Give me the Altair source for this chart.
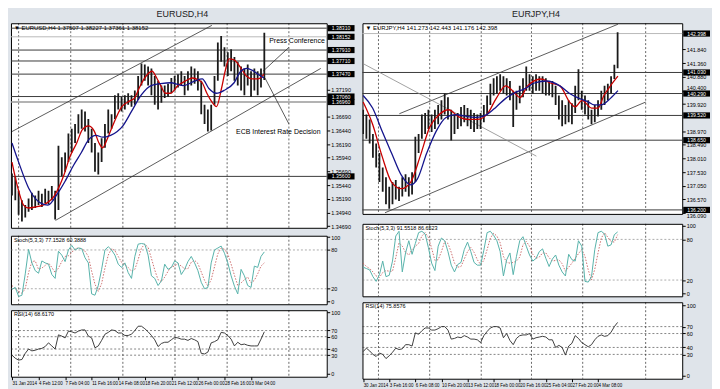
import altair as alt
import pandas as pd

FONT = "Liberation Sans"

# ======================= EURUSD,H4 =======================
usd_dates = ["31 Jan 2014", "4 Feb 12:00", "7 Feb 04:00", "11 Feb 16:00", "14 Feb 08:00",
             "18 Feb 20:00", "21 Feb 12:00", "26 Feb 00:00", "28 Feb 16:00", "3 Mar 04:00"]
usd_high = [1.35651, 1.35599, 1.35337, 1.35162, 1.35075, 1.35197, 1.35302, 1.35249, 1.35337, 1.35284,
            1.35372, 1.35337, 1.35424, 1.35337, 1.36158, 1.35949, 1.36036, 1.36386, 1.36473, 1.36560,
            1.36735, 1.36823, 1.36788, 1.36648, 1.36473, 1.36211, 1.36036, 1.36298, 1.36560, 1.36823,
            1.36735, 1.37085, 1.37120, 1.37050, 1.37085, 1.37120, 1.37085, 1.37172, 1.37434, 1.37662,
            1.37644, 1.37609, 1.37574, 1.37434, 1.37347, 1.37260, 1.37260, 1.37295, 1.37399, 1.37434,
            1.37469, 1.37522, 1.37434, 1.37522, 1.37609, 1.37574, 1.37522, 1.37347, 1.36910, 1.36823,
            1.36910, 1.37434, 1.38046, 1.38169, 1.37959, 1.37871, 1.37924, 1.37784, 1.37697, 1.37609,
            1.37574, 1.37644, 1.37522, 1.37574, 1.37522, 1.37574, 1.38227]
usd_low = [1.35249, 1.35162, 1.34900, 1.34777, 1.34847, 1.34952, 1.34987, 1.35022, 1.35075, 1.35040,
           1.35110, 1.35092, 1.35162, 1.34812, 1.34987, 1.35599, 1.35686, 1.35861, 1.36036, 1.36211,
           1.36386, 1.36473, 1.36420, 1.36211, 1.36036, 1.35686, 1.35634, 1.35861, 1.36123, 1.36386,
           1.36473, 1.36648, 1.36823, 1.36788, 1.36823, 1.36910, 1.36875, 1.36910, 1.36997, 1.37260,
           1.37347, 1.37260, 1.37085, 1.36910, 1.36823, 1.36945, 1.37032, 1.37050, 1.37120, 1.37172,
           1.37225, 1.37260, 1.37085, 1.37172, 1.37260, 1.37295, 1.37172, 1.36735, 1.36560, 1.36420,
           1.36438, 1.36910, 1.37347, 1.37697, 1.37609, 1.37434, 1.37522, 1.37347, 1.37260, 1.37172,
           1.37085, 1.37260, 1.37050, 1.37172, 1.37085, 1.37225, 1.37361]
usd_red_slot = [0, 2, 3.5, 5, 7, 9.3, 12.8, 15.7, 17.4, 19.5, 21.2, 23, 24.7, 26.2, 27.3, 28.8, 30.2,
                33.1, 35.5, 36.9, 38.4, 39.8, 42.2, 43.6, 44.8, 46.2, 47.7, 50, 52.3, 54.4, 56.1, 57.3,
                58.7, 60.2, 61.6, 63.1, 64.2, 65.4, 66.9, 68, 69.2, 70.6, 72.4, 74.1, 75.9]
usd_red = [1.35861, 1.35337, 1.35075, 1.35022, 1.35040, 1.35075, 1.35249, 1.35634, 1.35949, 1.36211,
           1.36455, 1.36525, 1.36438, 1.36211, 1.36123, 1.36298, 1.36508, 1.36875, 1.36980, 1.37032,
           1.37225, 1.37382, 1.37522, 1.37399, 1.37260, 1.37120, 1.37120, 1.37260, 1.37347, 1.37399,
           1.37364, 1.37312, 1.37120, 1.36962, 1.36875, 1.37207, 1.37522, 1.37749, 1.37732, 1.37662,
           1.37557, 1.37434, 1.37382, 1.37382, 1.37469]
usd_blue_slot = [0, 2, 5, 7, 8.7, 10.8, 13.7, 16, 18.6, 20.9, 23, 25.3, 27.3, 29.7, 31.7, 33.4, 36,
                 38.9, 41.9, 44.8, 47.7, 51.5, 55.2, 57.3, 59.3, 61.6, 63.9, 66.9, 68.9, 70.6, 72.4,
                 74.1, 75.9]
usd_blue = [1.36211, 1.35861, 1.35389, 1.35197, 1.35110, 1.35075, 1.35284, 1.35512, 1.35809, 1.36036,
            1.36263, 1.36351, 1.36316, 1.36351, 1.36420, 1.36525, 1.36788, 1.37085, 1.37260, 1.37295,
            1.37312, 1.37260, 1.37347, 1.37382, 1.37207, 1.37120, 1.37172, 1.37312, 1.37522, 1.37574,
            1.37539, 1.37469, 1.37399]
usd_stoch_main = [19, 22, 8, 10, 43, 81, 60, 48, 44, 63,
                  60, 58, 42, 36, 78, 72, 62, 80, 87, 80,
                  83, 82, 68, 60, 12, 10, 25, 50, 80, 85,
                  80, 72, 58, 53, 60, 45, 36, 70, 89, 90,
                  89, 72, 40, 36, 25, 32, 58, 50, 53, 63,
                  60, 42, 50, 62, 70, 60, 48, 30, 20, 22,
                  60, 80, 83, 86, 75, 60, 40, 24, 12, 50,
                  40, 25, 22, 55, 53, 70, 77]
usd_stoch_signal = [25, 20, 16, 13, 20, 45, 62, 63, 50, 52,
                    56, 60, 53, 45, 52, 62, 70, 71, 76, 82,
                    83, 82, 78, 70, 47, 27, 16, 28, 52, 72,
                    82, 79, 70, 61, 57, 53, 47, 50, 65, 83,
                    89, 84, 67, 49, 34, 31, 38, 47, 54, 55,
                    59, 55, 51, 51, 61, 64, 59, 46, 33, 24,
                    34, 54, 74, 83, 81, 74, 58, 41, 25, 29,
                    34, 38, 29, 33, 43, 55, 60]
usd_rsi = [30, 25, 22, 23, 33, 40, 37, 38, 40, 41,
           44, 50, 45, 40, 63, 61, 58, 69, 68, 66,
           69, 71, 71, 61, 58, 42, 45, 54, 64, 67,
           71, 70, 66, 66, 62, 62, 64, 70, 77, 77,
           73, 68, 62, 55, 44, 49, 51, 51, 55, 59,
           58, 56, 56, 54, 57, 55, 52, 33, 32, 35,
           50, 52, 55, 67, 66, 62, 56, 45, 51, 47,
           48, 46, 45, 45, 45, 56, 68]
usd_levels = [1.3831, 1.3791, 1.3771, 1.3747, 1.3706, 1.3560]
usd_levels_gray = [1.3696]
usd_bid = [1.38152]
usd_boxes = [1.3831, 1.38152, 1.3791, 1.3771, 1.3747, 1.3706, 1.3696, 1.3560]
usd_ticks = [1.3469, 1.3494, 1.3519, 1.3544, 1.3569, 1.3594, 1.3619, 1.3644, 1.3669, 1.3719]
usd_label_nudge = []
usd_grid = [2, 17.7, 33.4, 49.1, 64.8, 83.4]
# channel lines and annotation pointers (slot, price) -> (slot, price)
usd_seg_x1 = [0, 13.1, 75.6, 76.2]
usd_seg_y1 = [1.3642, 1.34795, 1.37522, 1.37399]
usd_seg_x2 = [60.2, 93.0, 83.4, 83.4]
usd_seg_y2 = [1.38361, 1.37574, 1.37959, 1.36560]
usd_note_text = ["Press Conference", "ECB Interest Rate Decision"]
usd_note_slot = [94.2, 80.2]
usd_note_price = [1.3808, 1.3642]
usd_note_align = ["right", "center"]

# ======================= EURJPY,H4 =======================
jpy_dates = ["30 Jan 2014", "3 Feb 16:00", "6 Feb 08:00", "10 Feb 20:00", "13 Feb 12:00",
             "18 Feb 00:00", "20 Feb 16:00", "25 Feb 04:00", "27 Feb 20:00", "4 Mar 08:00"]
jpy_high = [139.72, 139.55, 139.38, 138.87, 138.53, 138.20, 137.69, 137.35, 137.01, 137.18,
            137.25, 137.01, 137.35, 137.45, 137.35, 137.52, 138.77, 138.87, 139.55, 139.61,
            139.72, 139.55, 139.72, 139.89, 140.05, 140.29, 140.16, 139.72, 139.55, 139.61,
            139.82, 139.89, 139.78, 139.72, 139.61, 139.55, 139.61, 139.89, 140.22, 140.63,
            140.83, 140.90, 140.97, 140.90, 140.83, 140.73, 140.39, 140.39, 140.56, 140.83,
            141.24, 140.97, 140.90, 140.97, 140.90, 140.90, 140.83, 140.73, 140.73, 140.56,
            140.22, 140.05, 139.89, 140.05, 139.95, 140.56, 141.14, 140.39, 140.22, 140.05,
            139.72, 139.89, 140.05, 140.39, 140.56, 140.63, 140.90, 141.30, 142.44]
jpy_low = [138.87, 138.70, 138.53, 138.03, 137.69, 137.18, 136.84, 136.40, 136.24, 136.40,
           136.57, 136.51, 136.67, 136.84, 136.67, 136.74, 137.18, 138.20, 138.70, 138.87,
           139.04, 138.94, 139.04, 139.21, 139.38, 139.55, 139.38, 138.64, 138.87, 139.04,
           139.14, 139.28, 139.14, 139.04, 138.94, 139.04, 139.04, 139.28, 139.55, 139.89,
           140.22, 140.29, 140.39, 140.29, 140.22, 140.05, 139.11, 139.72, 139.95, 140.16,
           140.39, 140.39, 140.29, 140.39, 140.39, 140.29, 140.22, 140.22, 140.16, 139.89,
           139.38, 139.14, 139.21, 139.28, 139.21, 139.61, 140.05, 139.72, 139.55, 139.38,
           139.21, 139.28, 139.48, 139.72, 139.89, 140.05, 140.29, 140.80, 141.18]
jpy_red_slot = [0, 2.9, 5.8, 8.7, 11.7, 14.6, 17.5, 20.4, 23.3, 26.2, 29.2, 32.1, 35, 37.9, 40.8,
                43.7, 45.8, 48.1, 50.4, 54.5, 57.4, 60.3, 63.3, 65, 67.1, 70, 72, 73.8, 75.8, 78.1]
jpy_red = [139.99, 139.21, 138.09, 137.18, 136.95, 137.18, 138.09, 139.11, 139.55, 139.72,
           139.48, 139.38, 139.38, 139.55, 140.12, 140.56, 140.39, 140.15, 140.56, 140.80,
           140.66, 140.56, 139.99, 139.82, 140.05, 139.78, 139.78, 140.22, 140.56, 140.90]
jpy_blue_slot = [0, 2.9, 5.8, 8.7, 11.7, 14.6, 16.6, 19.5, 22.4, 25.4, 28.3, 32.1, 35, 37.9, 40.8,
                 43.7, 46.6, 49.6, 52.5, 56.3, 60.3, 63.3, 66.2, 69.1, 70.8, 72.9, 75.8, 78.1]
jpy_blue = [140.22, 139.78, 138.97, 138.20, 137.42, 137.08, 137.28, 138.20, 138.97, 139.45,
            139.55, 139.48, 139.45, 139.55, 139.82, 140.12, 140.32, 140.46, 140.66, 140.73,
            140.56, 140.29, 140.12, 139.99, 139.89, 139.89, 140.12, 140.39]
jpy_stoch_main = [39, 37, 35, 25, 18, 28, 48, 25, 27, 48,
                  85, 92, 32, 60, 78, 58, 74, 90, 92, 88,
                  68, 45, 34, 70, 82, 78, 62, 42, 32, 43,
                  46, 65, 76, 62, 46, 42, 42, 64, 90, 92,
                  86, 78, 62, 26, 50, 60, 28, 55, 78, 84,
                  70, 57, 48, 52, 62, 66, 52, 40, 51, 57,
                  42, 32, 26, 58, 50, 48, 78, 70, 18, 17,
                  25, 65, 90, 92, 88, 70, 72, 87, 91]
jpy_stoch_signal = [45, 40, 37, 32, 26, 24, 31, 34, 33, 33,
                    53, 75, 70, 61, 57, 65, 70, 74, 85, 90,
                    83, 67, 49, 50, 62, 77, 74, 61, 45, 39,
                    40, 51, 62, 68, 61, 50, 43, 49, 65, 82,
                    89, 85, 75, 55, 46, 45, 46, 48, 54, 72,
                    77, 70, 58, 52, 54, 60, 60, 53, 48, 49,
                    50, 44, 33, 39, 45, 52, 59, 65, 55, 35,
                    20, 36, 60, 82, 90, 83, 77, 76, 87]
jpy_rsi = [34, 39, 35, 30, 27, 32, 30, 24, 28, 33,
           39, 37, 38, 44, 44, 42, 61, 59, 64, 68,
           68, 65, 65, 67, 70, 70, 65, 52, 53, 55,
           54, 57, 55, 52, 52, 51, 47, 57, 63, 68,
           70, 70, 68, 54, 60, 50, 44, 53, 57, 58,
           58, 60, 52, 54, 55, 56, 55, 51, 51, 40,
           43, 40, 29, 42, 46, 57, 53, 47, 44, 41,
           44, 51, 56, 58, 56, 57, 62, 70, 76]
jpy_levels = [141.03, 140.29, 139.52, 138.65, 136.20]
jpy_levels_gray = []
jpy_bid = [142.398]
jpy_boxes = [142.398, 141.03, 140.29, 139.52, 138.65, 136.20]
jpy_ticks = [136.090, 136.570, 137.050, 137.530, 138.010, 138.490, 138.970, 139.920,
             140.400, 140.880, 141.360, 141.840]
# tick labels drawn just above / below the neighbouring price box, as in the terminal
jpy_label_nudge = [(140.400, "bottom"), (136.090, "top")]
jpy_grid = [4.7, 20.4, 36.2, 51.6, 67.3, 86.6]
jpy_seg_x1 = [11.1, 6.7, 0]
jpy_seg_y1 = [139.58, 136.10, 141.34]
jpy_seg_x2 = [78.1, 86.6, 53.1]
jpy_seg_y2 = [142.725, 139.99, 138.09]
jpy_seg_gray = [False, False, True]

date_slots = [0, 8, 16, 24, 32, 40, 48, 56, 64, 72]
BOX = "M-1,-0.23L1,-0.23L1,0.23L-1,0.23Z"


def column(sym, dates, high, low, red_s, red_v, blue_s, blue_v, levels, levels_gray, bid, boxes,
           ticks, nudge, fmt, ydom, xdom, grid, sx1, sy1, sx2, sy2, sgray, sm, ss, rsi,
           header, stoch_hdr, rsi_hdr, W, HP, HS, HR, sdom, rdom, notes=None):
    xs = alt.Scale(domain=xdom, nice=False, zero=False)
    xaxis = alt.Axis(values=date_slots,
                     labelExpr="[" + ",".join("'%s'" % d for d in dates) + "][round(datum.value/8)]",
                     labelAlign="left", labelFontSize=4.5, labelFont=FONT, labelColor="black",
                     tickSize=3, tickColor="black", domain=False, grid=False, title=None,
                     labelPadding=1, labelOverlap=False, labelFlush=False)

    def X(f, axis=None):
        return alt.X(f + ":Q", scale=xs, axis=axis)

    ys = alt.Scale(domain=ydom, nice=False, zero=False)
    if nudge:
        baseline = {"condition": [{"test": "abs(datum.value - %s) < 0.001" % v, "value": b}
                                  for v, b in nudge], "value": "middle"}
    else:
        baseline = "middle"
    yaxis = alt.Axis(orient="right", values=ticks, format=fmt, labelFontSize=5.5, labelFont=FONT,
                     labelColor="black", tickSize=3, tickColor="black", domain=False, grid=False,
                     title=None, labelPadding=1, labelOverlap=False, labelFlush=False,
                     labelBaseline=baseline)

    def Y(f):
        return alt.Y(f + ":Q", scale=ys, axis=yaxis)

    grid_df = pd.DataFrame({"slot": grid})
    bars = pd.DataFrame({"slot": list(range(len(high))), "high": high, "low": low})
    segs = pd.DataFrame({"x1": sx1, "y1": sy1, "x2": sx2, "y2": sy2, "gray": sgray})

    def text_at(t, xp, yp, size=6.5):
        return alt.Chart(pd.DataFrame({"t": [t]})).mark_text(
            align="left", baseline="top", fontSize=size, font=FONT, color="black"
        ).encode(x=alt.value(xp), y=alt.value(yp), text="t:N")

    layers = [
        alt.Chart(grid_df).mark_rule(strokeDash=[2, 2], color="black", strokeWidth=0.6).encode(x=X("slot")),
        alt.Chart(pd.DataFrame({"price": bid})).mark_rule(color="#b8b8b8", strokeWidth=1).encode(y=Y("price")),
        alt.Chart(pd.DataFrame({"price": levels})).mark_rule(color="#3a3a3a", strokeWidth=1).encode(y=Y("price")),
    ]
    if levels_gray:
        layers.append(alt.Chart(pd.DataFrame({"price": levels_gray})).mark_rule(
            color="#9a9a9a", strokeWidth=1.5).encode(y=Y("price")))
    layers += [
        alt.Chart(segs[~segs.gray]).mark_rule(clip=True, color="#333", strokeWidth=0.8).encode(
            x=X("x1"), x2="x2:Q", y=Y("y1"), y2="y2:Q"),
        alt.Chart(segs[segs.gray]).mark_rule(clip=True, color="#8a8a8a", strokeWidth=0.8).encode(
            x=X("x1"), x2="x2:Q", y=Y("y1"), y2="y2:Q"),
        alt.Chart(bars).mark_rule(clip=True, strokeWidth=1.8, color="#1a1a1a").encode(
            x=X("slot"), y=Y("low"), y2="high:Q"),
        alt.Chart(pd.DataFrame({"slot": red_s, "price": red_v})).mark_line(
            clip=True, color="#c80000", strokeWidth=1.3, interpolate="monotone").encode(x=X("slot"), y=Y("price")),
        alt.Chart(pd.DataFrame({"slot": blue_s, "price": blue_v})).mark_line(
            clip=True, color="#14148c", strokeWidth=1.3, interpolate="monotone").encode(x=X("slot"), y=Y("price")),
        text_at(header, 3, 2, 6),
        alt.Chart(pd.DataFrame({"price": boxes})).mark_point(
            shape=BOX, filled=True, color="black", opacity=1, size=729).encode(
            x=alt.value(W + 14.5), y=Y("price")),
        alt.Chart(pd.DataFrame({"price": boxes})).mark_text(
            color="white", fontSize=5.2, font=FONT, align="center", baseline="middle").encode(
            x=alt.value(W + 14.5), y=Y("price"), text=alt.Text("price:Q", format=fmt)),
    ]
    if notes is not None:
        nt = pd.DataFrame({"t": notes[0], "slot": notes[1], "price": notes[2], "al": notes[3]})
        for al in ["right", "center"]:
            layers.append(alt.Chart(nt[nt.al == al]).mark_text(
                align=al, baseline="middle", fontSize=7, font=FONT, color="black").encode(
                x=X("slot"), y=Y("price"), text="t:N"))
    price = alt.layer(*layers).properties(width=W, height=HP)

    # Stochastic
    ssc = alt.Scale(domain=sdom, nice=False, zero=False)
    sax = alt.Axis(orient="right", values=[0, 20, 80, 100], format="d", labelFontSize=5.5, labelFont=FONT,
                   labelColor="black", tickSize=3, tickColor="black", domain=False, grid=False, title=None,
                   labelPadding=1, labelFlush=False)
    sdf = pd.DataFrame({"slot": list(range(len(sm))), "main": sm, "sig": ss})
    stoch = alt.layer(
        alt.Chart(grid_df).mark_rule(strokeDash=[2, 2], color="black", strokeWidth=0.6).encode(x=X("slot")),
        alt.Chart(pd.DataFrame({"v": [20, 80]})).mark_rule(strokeDash=[2, 2], color="#777", strokeWidth=0.6).encode(
            y=alt.Y("v:Q", scale=ssc, axis=sax)),
        alt.Chart(sdf).mark_line(clip=True, color="#c86060", strokeDash=[1.5, 1.5], strokeWidth=0.9).encode(
            x=X("slot"), y=alt.Y("sig:Q", scale=ssc, axis=sax)),
        alt.Chart(sdf).mark_line(clip=True, color="#58b2aa", strokeWidth=1).encode(
            x=X("slot"), y=alt.Y("main:Q", scale=ssc, axis=sax)),
        text_at(stoch_hdr, 3, 2, 5.5),
    ).properties(width=W, height=HS)

    # RSI
    rsc = alt.Scale(domain=rdom, nice=False, zero=False)
    rax = alt.Axis(orient="right", values=[0, 30, 40, 60, 70, 100], format="d", labelFontSize=5.5, labelFont=FONT,
                   labelColor="black", tickSize=3, tickColor="black", domain=False, grid=False, title=None,
                   labelPadding=1, labelFlush=False)
    rdf = pd.DataFrame({"slot": list(range(len(rsi))), "rsi": rsi})
    rsi_ch = alt.layer(
        alt.Chart(grid_df).mark_rule(strokeDash=[2, 2], color="black", strokeWidth=0.6).encode(x=X("slot", xaxis)),
        alt.Chart(pd.DataFrame({"v": [30, 40, 60, 70]})).mark_rule(strokeDash=[2, 2], color="#333", strokeWidth=0.6).encode(
            y=alt.Y("v:Q", scale=rsc, axis=rax)),
        alt.Chart(rdf).mark_line(clip=True, color="#2a2a2a", strokeWidth=0.9).encode(
            x=X("slot", xaxis), y=alt.Y("rsi:Q", scale=rsc, axis=rax)),
        text_at(rsi_hdr, 3, 2, 5.5),
    ).properties(width=W, height=HR)

    return alt.vconcat(price, stoch, rsi_ch, spacing=3,
                       title=alt.TitleParams(text=sym, fontSize=9, font=FONT, fontWeight="normal",
                                             color="#222", anchor="middle", offset=3))


left = column("EURUSD,H4", usd_dates, usd_high, usd_low, usd_red_slot, usd_red, usd_blue_slot, usd_blue,
              usd_levels, usd_levels_gray, usd_bid, usd_boxes, usd_ticks, usd_label_nudge, ".5f",
              [1.3466, 1.3840], [-0.3, 94.8], usd_grid, usd_seg_x1, usd_seg_y1, usd_seg_x2, usd_seg_y2,
              [False] * len(usd_seg_x1), usd_stoch_main, usd_stoch_signal, usd_rsi,
              "\u25bc EURUSD,H4  1.37507 1.38227 1.37361 1.38152", "Stoch(5,3,3) 77.1528 60.3888",
              "RSI(14) 68.6170", 318, 206, 69, 67, [-4, 102], [-5, 103],
              notes=(usd_note_text, usd_note_slot, usd_note_price, usd_note_align))

right = column("EURJPY,H4", jpy_dates, jpy_high, jpy_low, jpy_red_slot, jpy_red, jpy_blue_slot, jpy_blue,
               jpy_levels, jpy_levels_gray, jpy_bid, jpy_boxes, jpy_ticks, jpy_label_nudge, ".3f",
               [136.06, 142.76], [-0.2, 97.8], jpy_grid, jpy_seg_x1, jpy_seg_y1, jpy_seg_x2, jpy_seg_y2,
               jpy_seg_gray, jpy_stoch_main, jpy_stoch_signal, jpy_rsi,
               "\u25bc EURJPY,H4  141.273 142.443 141.176 142.398", "Stoch(5,3,3) 91.5518 86.6523",
               "RSI(14) 75.8576", 322, 192, 73, 77, [-4, 103], [-5, 105])

chart = alt.hconcat(left, right, spacing=6).properties(
    background="#dfe4ea", padding={"left": 1, "top": 1, "right": 1, "bottom": 1}
).configure_view(stroke="black", strokeWidth=1, fill="white")

chart.save("out.html", embed_options={"renderer": "svg", "actions": False})
